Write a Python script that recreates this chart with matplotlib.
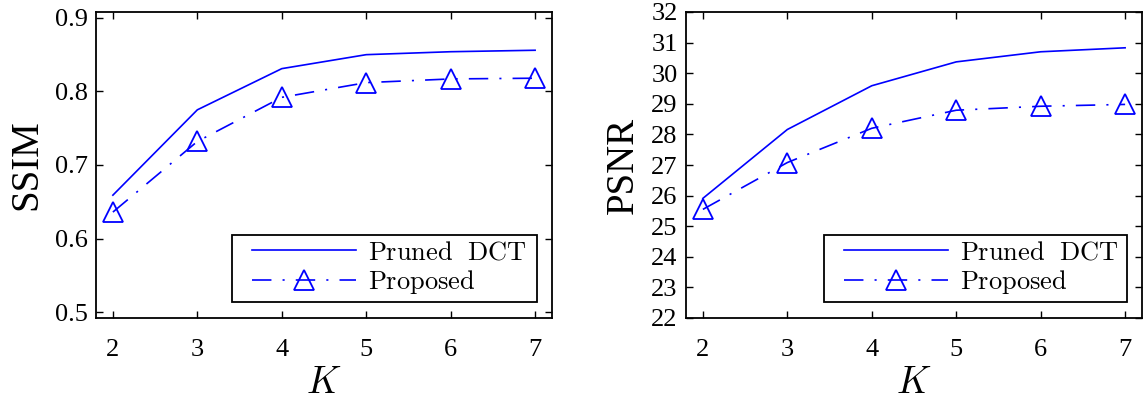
import matplotlib
matplotlib.use("Agg")
import matplotlib.pyplot as plt
from matplotlib.patches import Rectangle

# K values and metric curves
k_vals = [2, 3, 4, 5, 6, 7]
ssim_pruned = [0.659, 0.775, 0.831, 0.850, 0.854, 0.856]
ssim_proposed = [0.636, 0.732, 0.792, 0.812, 0.817, 0.818]
psnr_pruned = [25.91, 28.16, 29.59, 30.37, 30.70, 30.83]
psnr_proposed = [25.55, 27.08, 28.20, 28.79, 28.92, 28.98]

ssim_ticks = [0.5, 0.6, 0.7, 0.8, 0.9]
psnr_ticks = list(range(22, 33))

plt.rcParams['font.family'] = ['Liberation Serif', 'DejaVu Serif']
plt.rcParams['mathtext.fontset'] = 'cm'
plt.rcParams['lines.scale_dashes'] = False

blue = '#0000ff'
W, H = 1144, 400
fig = plt.figure(figsize=(W / 100, H / 100), dpi=100)


def draw_panel(rect, pruned, proposed, ylim, yticks, ylabel, box):
    ax = fig.add_axes(rect)
    ax.plot(k_vals, pruned, color=blue, lw=1.2, label=r'$\mathrm{Pruned\ \ DCT}$')
    ax.plot(k_vals, proposed, color=blue, lw=1.2, dashes=(14, 8, 1.5, 8),
            marker='^', ms=15, mfc='none', mec=blue, mew=1.3,
            label=r'$\mathrm{Proposed}$')
    ax.set_xlim(1.8, 7.2)
    ax.set_ylim(*ylim)
    ax.set_xticks(k_vals)
    ax.set_yticks(yticks)
    ax.tick_params(direction='in', length=5, width=1, top=True, right=True,
                   labelsize=19)
    ax.tick_params(axis='x', pad=15)
    ax.tick_params(axis='y', pad=6)
    for s in ax.spines.values():
        s.set_linewidth(1.3)
    ax.set_xlabel('$K$', fontsize=27, labelpad=4)
    ax.set_ylabel(ylabel, fontsize=28, labelpad=7)

    # legend entries without their own frame, boxed by a plain rectangle
    x0, y0, x1, y1 = box
    ax.legend(loc='center left', bbox_to_anchor=((x0 + 20) / W, 1 - (y0 + y1) / 2 / H),
              bbox_transform=fig.transFigure, borderaxespad=0, borderpad=0,
              fontsize=19, frameon=False, handlelength=3.95,
              labelspacing=0.12, handletextpad=0.45)
    fig.patches.append(Rectangle((x0 / W, 1 - y1 / H), (x1 - x0) / W, (y1 - y0) / H,
                                 transform=fig.transFigure, fill=False,
                                 edgecolor='black', linewidth=1.3, zorder=5))
    return ax


draw_panel([96 / W, 82 / H, 456 / W, 306 / H],
           ssim_pruned, ssim_proposed, (0.492, 0.908), ssim_ticks,
           'SSIM', (232, 235, 537, 302))
draw_panel([686 / W, 82 / H, 456 / W, 306 / H],
           psnr_pruned, psnr_proposed, (22, 32), psnr_ticks,
           'PSNR', (824, 235, 1127, 302))

fig.savefig('out.png', dpi=100)
